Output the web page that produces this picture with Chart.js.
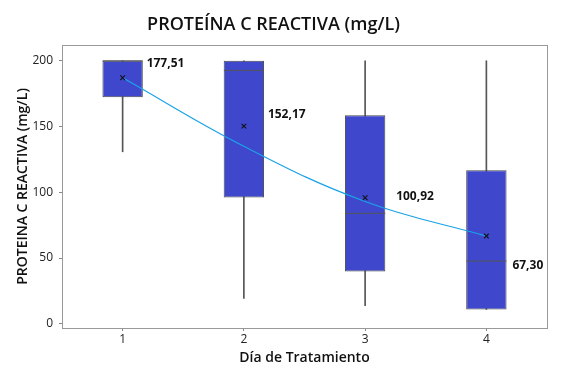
<!DOCTYPE html>
<html><head><meta charset="utf-8">
<script src="https://cdn.jsdelivr.net/npm/chart.js@4/dist/chart.umd.min.js"></script>
<style>html,body{margin:0;padding:0;background:#fff}#wrap{width:574px;height:382px}</style>
</head><body><div id="wrap"><canvas id="c" width="574" height="382"></canvas></div>
<script>
const categories = ['1', '2', '3', '4'];
const whiskerLow = [130.8, 19.3, 13.7, 10.9];
const whiskerHigh = [200, 200, 200, 200];
const q1 = [172.2, 96.1, 39.8, 10.9];
const q3 = [200, 200, 158.5, 116.7];
const medians = [200, 192.7, 84.0, 47.7];
const means = [187.1, 150.3, 95.8, 66.7];
const fitLine = [187.1, 135.0, 93.0, 66.7];
const meanLabels = ['177,51', '152,17', '100,92', '67,30'];
const labelY = [197.5, 159, 97, 44.6];
const yTicks = [0, 50, 100, 150, 200];

const labelOffsets = [24, 24, 31, 26];
const FONT = "'Open Sans', 'Noto Sans', sans-serif";

const extras = {
  id: 'extras',
  afterDatasetsDraw(chart) {
    const ctx = chart.ctx, a = chart.chartArea;
    const xs = chart.scales.x, ys = chart.scales.y;
    ctx.save();
    ctx.font = 'bold 12px ' + FONT;
    ctx.fillStyle = '#111';
    ctx.textBaseline = 'middle';
    ctx.textAlign = 'left';
    meanLabels.forEach((t, i) => {
      ctx.fillText(t, xs.getPixelForValue(i) + labelOffsets[i], ys.getPixelForValue(labelY[i]));
    });
    ctx.strokeStyle = '#999';
    ctx.lineWidth = 1;
    ctx.strokeRect(Math.round(a.left) + 0.5, Math.round(a.top) + 0.5, Math.round(a.right - a.left), Math.round(a.bottom - a.top));
    ctx.restore();
  }
};

new Chart(document.getElementById('c'), {
  type: 'bar',
  data: {
    labels: categories,
    datasets: [
      {
        type: 'line', label: 'fit', data: fitLine, order: 1,
        borderColor: '#1aa3e8', borderWidth: 1.2, tension: 0.4, pointRadius: 0
      },
      {
        type: 'line', label: 'mean', data: means, order: 0, showLine: false,
        pointStyle: 'crossRot', pointRadius: 3.3, pointBorderColor: '#111',
        pointBackgroundColor: '#111', pointBorderWidth: 1.1
      },
      {
        type: 'line', label: 'median', data: medians, order: 2, showLine: false,
        pointStyle: 'line', pointRadius: 20, pointBorderColor: '#555', pointBorderWidth: 1
      },
      {
        label: 'box', data: q1.map((v, i) => [v, q3[i]]), order: 3, grouped: false,
        backgroundColor: '#3f48cc', borderColor: '#4a4a4a', borderWidth: 1, borderSkipped: false,
        categoryPercentage: 1, barPercentage: 0.333
      },
      {
        label: 'whisker', data: whiskerLow.map((v, i) => [v, whiskerHigh[i]]), order: 4, grouped: false,
        backgroundColor: '#555', borderWidth: 0, barThickness: 1
      }
    ]
  },
  options: {
    responsive: false, animation: false,
    layout: { padding: { left: 0, right: 27, top: 0, bottom: 0 } },
    plugins: {
      legend: { display: false }, tooltip: { enabled: false },
      title: {
        display: true, text: 'PROTEÍNA C REACTIVA (mg/L)', color: '#111',
        font: { family: FONT, size: 18, weight: '600' }, padding: { top: 14, bottom: 9.4 }
      }
    },
    scales: {
      x: {
        type: 'category', offset: true,
        grid: { display: true, drawOnChartArea: false, tickLength: 3, color: '#888', offset: false }, border: { display: false },
        ticks: { color: '#222', font: { family: FONT, size: 12 }, padding: 1 },
        title: { display: true, text: 'Día de Tratamiento', color: '#111', font: { family: FONT, size: 14, weight: '600' }, padding: { top: 0, bottom: 16 } },
        afterFit(s) { s.height = 54; }
      },
      y: {
        min: -3.2, max: 212,
        afterBuildTicks(s) { s.ticks = yTicks.map(v => ({ value: v })); },
        grid: { display: true, drawOnChartArea: false, tickLength: 3, color: '#888' }, border: { display: false },
        ticks: { color: '#222', font: { family: FONT, size: 12 }, padding: 6 },
        title: { display: true, text: 'PROTEINA C REACTIVA (mg/L)', color: '#111', font: { family: FONT, size: 14, weight: '600' }, padding: { top: 15, bottom: 0 } },
        afterFit(s) { s.width = 62; }
      }
    }
  },
  plugins: [extras]
});
</script></body></html>
